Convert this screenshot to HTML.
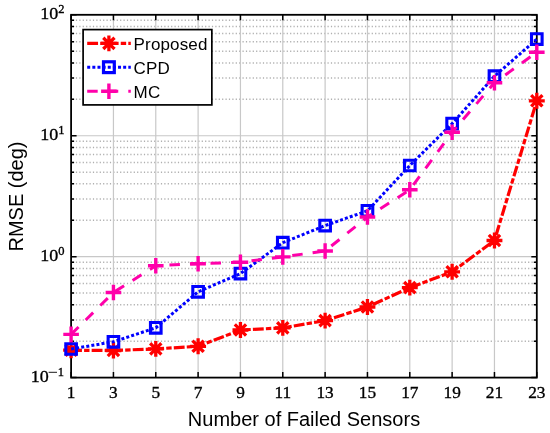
<!DOCTYPE html><html><head><meta charset="utf-8"><style>html,body{margin:0;padding:0;background:#fff;}svg{display:block;will-change:transform;}text{font-family:"Liberation Sans",sans-serif;}.s{font-family:"Liberation Serif",serif;stroke:#000;stroke-width:0.35px;}</style></head><body>
<svg width="550" height="433" viewBox="0 0 550 433">
<rect x="0" y="0" width="550" height="433" fill="#fff"/>
<path d="M71.10 341.20H536.80M71.10 319.90H536.80M71.10 304.79H536.80M71.10 293.07H536.80M71.10 283.50H536.80M71.10 275.40H536.80M71.10 268.39H536.80M71.10 262.20H536.80M71.10 220.26H536.80M71.10 198.97H536.80M71.10 183.86H536.80M71.10 172.14H536.80M71.10 162.56H536.80M71.10 154.47H536.80M71.10 147.45H536.80M71.10 141.27H536.80M71.10 99.33H536.80M71.10 78.03H536.80M71.10 62.92H536.80M71.10 51.20H536.80M71.10 41.63H536.80M71.10 33.53H536.80M71.10 26.52H536.80M71.10 20.33H536.80" stroke="#b0b0b0" stroke-width="1.5" stroke-dasharray="1.2 2.2" stroke-dashoffset="2.0" fill="none"/>
<path d="M113.44 14.80V377.60M155.77 14.80V377.60M198.11 14.80V377.60M240.45 14.80V377.60M282.78 14.80V377.60M325.12 14.80V377.60M367.45 14.80V377.60M409.79 14.80V377.60M452.13 14.80V377.60M494.46 14.80V377.60M71.10 256.67H536.80M71.10 135.73H536.80" stroke="#c8c8c8" stroke-width="1.2" fill="none"/>
<path d="M71.10 377.60v-5.5M71.10 14.80v5.5M113.44 377.60v-5.5M113.44 14.80v5.5M155.77 377.60v-5.5M155.77 14.80v5.5M198.11 377.60v-5.5M198.11 14.80v5.5M240.45 377.60v-5.5M240.45 14.80v5.5M282.78 377.60v-5.5M282.78 14.80v5.5M325.12 377.60v-5.5M325.12 14.80v5.5M367.45 377.60v-5.5M367.45 14.80v5.5M409.79 377.60v-5.5M409.79 14.80v5.5M452.13 377.60v-5.5M452.13 14.80v5.5M494.46 377.60v-5.5M494.46 14.80v5.5M536.80 377.60v-5.5M536.80 14.80v5.5M71.10 377.60h5.5M536.80 377.60h-5.5M71.10 256.67h5.5M536.80 256.67h-5.5M71.10 135.73h5.5M536.80 135.73h-5.5M71.10 14.80h5.5M536.80 14.80h-5.5M71.10 341.20h3M536.80 341.20h-3M71.10 319.90h3M536.80 319.90h-3M71.10 304.79h3M536.80 304.79h-3M71.10 293.07h3M536.80 293.07h-3M71.10 283.50h3M536.80 283.50h-3M71.10 275.40h3M536.80 275.40h-3M71.10 268.39h3M536.80 268.39h-3M71.10 262.20h3M536.80 262.20h-3M71.10 220.26h3M536.80 220.26h-3M71.10 198.97h3M536.80 198.97h-3M71.10 183.86h3M536.80 183.86h-3M71.10 172.14h3M536.80 172.14h-3M71.10 162.56h3M536.80 162.56h-3M71.10 154.47h3M536.80 154.47h-3M71.10 147.45h3M536.80 147.45h-3M71.10 141.27h3M536.80 141.27h-3M71.10 99.33h3M536.80 99.33h-3M71.10 78.03h3M536.80 78.03h-3M71.10 62.92h3M536.80 62.92h-3M71.10 51.20h3M536.80 51.20h-3M71.10 41.63h3M536.80 41.63h-3M71.10 33.53h3M536.80 33.53h-3M71.10 26.52h3M536.80 26.52h-3M71.10 20.33h3M536.80 20.33h-3" stroke="#000" stroke-width="1.5" fill="none"/>
<rect x="71.10" y="14.80" width="465.70" height="362.80" fill="none" stroke="#000" stroke-width="1.8"/>
<defs><clipPath id="ax"><rect x="63.099999999999994" y="6.800000000000001" width="481.69999999999993" height="378.8"/></clipPath></defs>
<polyline points="71.10,350.20 113.44,350.50 155.77,348.90 198.11,346.30 240.45,330.00 282.78,327.90 325.12,320.60 367.45,307.00 409.79,287.65 452.13,271.80 494.46,240.50 536.80,100.80" fill="none" stroke="#ff0000" stroke-width="3.2" stroke-dasharray="10.85 2.15 5.4 2.15"/>
<path d="M64.80 350.20L77.40 350.20M66.65 345.75L75.55 354.65M71.10 343.90L71.10 356.50M75.55 345.75L66.65 354.65M107.14 350.50L119.74 350.50M108.98 346.05L117.89 354.95M113.44 344.20L113.44 356.80M117.89 346.05L108.98 354.95M149.47 348.90L162.07 348.90M151.32 344.45L160.23 353.35M155.77 342.60L155.77 355.20M160.23 344.45L151.32 353.35M191.81 346.30L204.41 346.30M193.65 341.85L202.56 350.75M198.11 340.00L198.11 352.60M202.56 341.85L193.65 350.75M234.15 330.00L246.75 330.00M235.99 325.55L244.90 334.45M240.45 323.70L240.45 336.30M244.90 325.55L235.99 334.45M276.48 327.90L289.08 327.90M278.33 323.45L287.24 332.35M282.78 321.60L282.78 334.20M287.24 323.45L278.33 332.35M318.82 320.60L331.42 320.60M320.66 316.15L329.57 325.05M325.12 314.30L325.12 326.90M329.57 316.15L320.66 325.05M361.15 307.00L373.75 307.00M363.00 302.55L371.91 311.45M367.45 300.70L367.45 313.30M371.91 302.55L363.00 311.45M403.49 287.65L416.09 287.65M405.34 283.20L414.25 292.10M409.79 281.35L409.79 293.95M414.25 283.20L405.34 292.10M445.83 271.80L458.43 271.80M447.67 267.35L456.58 276.25M452.13 265.50L452.13 278.10M456.58 267.35L447.67 276.25M488.16 240.50L500.76 240.50M490.01 236.05L498.92 244.95M494.46 234.20L494.46 246.80M498.92 236.05L490.01 244.95M530.50 100.80L543.10 100.80M532.35 96.35L541.25 105.25M536.80 94.50L536.80 107.10M541.25 96.35L532.35 105.25" stroke="#ff0000" stroke-width="3.3" stroke-linecap="square" fill="none"/>
<g fill="#ff0000"><circle cx="71.10" cy="350.20" r="3.6"/><circle cx="113.44" cy="350.50" r="3.6"/><circle cx="155.77" cy="348.90" r="3.6"/><circle cx="198.11" cy="346.30" r="3.6"/><circle cx="240.45" cy="330.00" r="3.6"/><circle cx="282.78" cy="327.90" r="3.6"/><circle cx="325.12" cy="320.60" r="3.6"/><circle cx="367.45" cy="307.00" r="3.6"/><circle cx="409.79" cy="287.65" r="3.6"/><circle cx="452.13" cy="271.80" r="3.6"/><circle cx="494.46" cy="240.50" r="3.6"/><circle cx="536.80" cy="100.80" r="3.6"/></g>
<polyline points="71.10,349.00 113.44,341.80 155.77,327.80 198.11,291.80 240.45,273.60 282.78,242.70 325.12,225.60 367.45,210.80 409.79,165.50 452.13,123.60 494.46,76.20 536.80,39.10" fill="none" stroke="#0000ff" stroke-width="3" stroke-dasharray="3 2.1375"/>
<path d="M65.80 343.70h10.6v10.6h-10.6zM108.14 336.50h10.6v10.6h-10.6zM150.47 322.50h10.6v10.6h-10.6zM192.81 286.50h10.6v10.6h-10.6zM235.15 268.30h10.6v10.6h-10.6zM277.48 237.40h10.6v10.6h-10.6zM319.82 220.30h10.6v10.6h-10.6zM362.15 205.50h10.6v10.6h-10.6zM404.49 160.20h10.6v10.6h-10.6zM446.83 118.30h10.6v10.6h-10.6zM489.16 70.90h10.6v10.6h-10.6zM531.50 33.80h10.6v10.6h-10.6z" stroke="#0000ff" stroke-width="3.1" fill="none"/>
<polyline points="71.10,334.40 113.44,292.50 155.77,265.80 198.11,263.70 240.45,262.20 282.78,256.90 325.12,251.00 367.45,217.00 409.79,189.80 452.13,132.30 494.46,82.70 536.80,52.30" fill="none" stroke="#ff00aa" stroke-width="3" stroke-dasharray="10.5 10.05"/>
<path d="M63.30 334.40h15.60M71.10 326.60v15.60M105.64 292.50h15.60M113.44 284.70v15.60M147.97 265.80h15.60M155.77 258.00v15.60M190.31 263.70h15.60M198.11 255.90v15.60M232.65 262.20h15.60M240.45 254.40v15.60M274.98 256.90h15.60M282.78 249.10v15.60M317.32 251.00h15.60M325.12 243.20v15.60M359.65 217.00h15.60M367.45 209.20v15.60M401.99 189.80h15.60M409.79 182.00v15.60M444.33 132.30h15.60M452.13 124.50v15.60M486.66 82.70h15.60M494.46 74.90v15.60M529.00 52.30h15.60M536.80 44.50v15.60" stroke="#ff00aa" stroke-width="3.4" fill="none"/>
<rect x="83.1" y="29.6" width="128.75" height="75.30" fill="#fff" stroke="#000" stroke-width="1.7"/>
<line x1="87.2" y1="43.35" x2="130.8" y2="43.35" stroke="#ff0000" stroke-width="3.2" stroke-dasharray="10.85 2.15 5.4 2.15"/>
<path d="M102.60 43.35L115.20 43.35M104.45 38.90L113.35 47.80M108.90 37.05L108.90 49.65M113.35 38.90L104.45 47.80" stroke="#ff0000" stroke-width="3.3" stroke-linecap="square" fill="none"/>
<circle cx="108.9" cy="43.35" r="3.6" fill="#ff0000"/>
<line x1="87.2" y1="67.2" x2="130.8" y2="67.2" stroke="#0000ff" stroke-width="3" stroke-dasharray="3 2.1375"/>
<rect x="103.5" y="61.800000000000004" width="10.8" height="10.8" stroke="#0000ff" stroke-width="3.2" fill="none"/>
<line x1="87.2" y1="91.2" x2="130.8" y2="91.2" stroke="#ff00aa" stroke-width="3" stroke-dasharray="10.5 10.05"/>
<path d="M101.10 91.20h15.60M108.90 83.40v15.60" stroke="#ff00aa" stroke-width="3.4" fill="none"/>
<text x="133.6" y="49.90" font-size="17" letter-spacing="0.15">Proposed</text>
<text x="133.6" y="73.90" font-size="17" letter-spacing="0.15">CPD</text>
<text x="133.6" y="97.70" font-size="17" letter-spacing="0.15">MC</text>
<text class="s" x="71.10" y="398.3" font-size="17.3" text-anchor="middle">1</text>
<text class="s" x="113.44" y="398.3" font-size="17.3" text-anchor="middle">3</text>
<text class="s" x="155.77" y="398.3" font-size="17.3" text-anchor="middle">5</text>
<text class="s" x="198.11" y="398.3" font-size="17.3" text-anchor="middle">7</text>
<text class="s" x="240.45" y="398.3" font-size="17.3" text-anchor="middle">9</text>
<text class="s" x="282.78" y="398.3" font-size="17.3" text-anchor="middle">11</text>
<text class="s" x="325.12" y="398.3" font-size="17.3" text-anchor="middle">13</text>
<text class="s" x="367.45" y="398.3" font-size="17.3" text-anchor="middle">15</text>
<text class="s" x="409.79" y="398.3" font-size="17.3" text-anchor="middle">17</text>
<text class="s" x="452.13" y="398.3" font-size="17.3" text-anchor="middle">19</text>
<text class="s" x="494.46" y="398.3" font-size="17.3" text-anchor="middle">21</text>
<text class="s" x="536.80" y="398.3" font-size="17.3" text-anchor="middle">23</text>
<path d="M48.6 372.30h8.4" stroke="#000" stroke-width="0.9"/>
<text class="s" transform="translate(30.70,382.20) scale(1.03,1)" font-size="17.5">10</text>
<text class="s" x="57.80" y="375.90" font-size="12.5">1</text>
<text class="s" transform="translate(40.30,261.27) scale(1.03,1)" font-size="17.5">10</text>
<text class="s" x="58.20" y="254.97" font-size="12.5">0</text>
<text class="s" transform="translate(40.30,140.33) scale(1.03,1)" font-size="17.5">10</text>
<text class="s" x="58.20" y="134.03" font-size="12.5">1</text>
<text class="s" transform="translate(40.30,19.40) scale(1.03,1)" font-size="17.5">10</text>
<text class="s" x="58.20" y="13.10" font-size="12.5">2</text>
<text x="304" y="426.3" font-size="20" text-anchor="middle">Number of Failed Sensors</text>
<text transform="translate(22.5,196.5) rotate(-90)" font-size="20" text-anchor="middle">RMSE (deg)</text>
</svg></body></html>
